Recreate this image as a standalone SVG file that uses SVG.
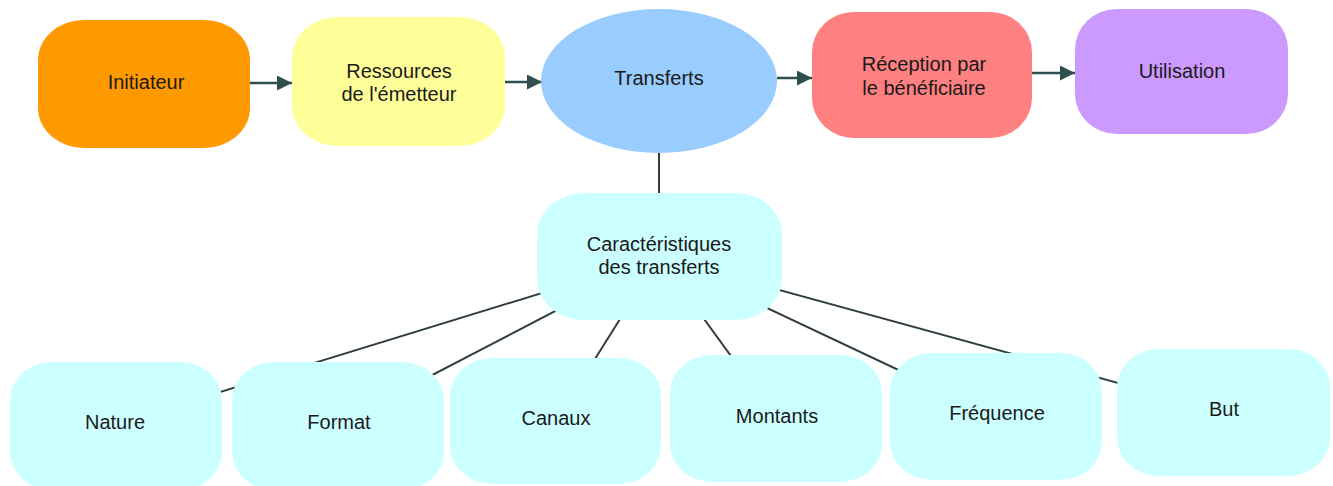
<svg xmlns="http://www.w3.org/2000/svg" width="1333" height="486" viewBox="0 0 1333 486">
<style>
text{font-family:"Liberation Sans",Arial,sans-serif;font-size:20px;fill:#1a1a1a;text-anchor:middle}
.ln{stroke:#2f3f3f;stroke-width:2;fill:none}
.ar{stroke:#2f4f4f;stroke-width:2.5;fill:none;marker-end:url(#ah)}
.leaf{fill:#ccffff}
</style>
<defs>
<marker id="ah" viewBox="0 0 10 10" refX="10" refY="5" markerWidth="6" markerHeight="6" markerUnits="strokeWidth" orient="auto">
<path d="M0,0 L10,5 L0,10 z" fill="#2f4f4f"/>
</marker>
</defs>
<rect width="1333" height="486" fill="#fff"/>
<g id="connectors">
<path class="ar" d="M250,83 H292"/>
<path class="ar" d="M505,82 H542"/>
<path class="ar" d="M777,78 H812"/>
<path class="ar" d="M1032,73 H1075"/>
<path class="ln" d="M659,153 V195"/>
<path class="ln" d="M659,257 L116,424"/>
<path class="ln" d="M659,257 L338,424"/>
<path class="ln" d="M659,257 L556,421"/>
<path class="ln" d="M659,257 L776,418"/>
<path class="ln" d="M659,257 L996,416"/>
<path class="ln" d="M659,257 L1224,412"/>
</g>
<g id="initiateur"><rect x="38" y="20" width="212" height="128" rx="46" ry="40" fill="#ff9900"/><text x="146" y="89">Initiateur</text></g>
<g id="ressources"><rect x="292" y="17" width="213" height="129" rx="46" ry="40" fill="#ffff99"/><text x="399" y="78">Ressources</text><text x="399" y="101">de l'émetteur</text></g>
<g id="transferts"><ellipse cx="659" cy="81" rx="118" ry="72" fill="#99ccff"/><text x="659" y="85">Transferts</text></g>
<g id="reception"><rect x="812" y="12" width="220" height="126" rx="42" ry="40" fill="#ff8080"/><text x="924" y="71">Réception par</text><text x="924" y="95">le bénéficiaire</text></g>
<g id="utilisation"><rect x="1075" y="9" width="213" height="125" rx="42" ry="40" fill="#cc99ff"/><text x="1182" y="78">Utilisation</text></g>
<g id="caracteristiques"><rect x="537" y="193" width="245" height="127" rx="46" ry="42" class="leaf"/><text x="659" y="251">Caractéristiques</text><text x="659" y="274">des transferts</text></g>
<g id="nature"><rect x="10" y="362" width="212" height="128" rx="42" ry="38" class="leaf"/><text x="115" y="429">Nature</text></g>
<g id="format"><rect x="232" y="362" width="212" height="128" rx="42" ry="38" class="leaf"/><text x="339" y="429">Format</text></g>
<g id="canaux"><rect x="450" y="358" width="211" height="126" rx="42" ry="38" class="leaf"/><text x="556" y="425">Canaux</text></g>
<g id="montants"><rect x="670" y="355" width="212" height="127" rx="42" ry="38" class="leaf"/><text x="777" y="423">Montants</text></g>
<g id="frequence"><rect x="890" y="353" width="212" height="127" rx="42" ry="38" class="leaf"/><text x="997" y="420">Fréquence</text></g>
<g id="but"><rect x="1117" y="349" width="213" height="127" rx="42" ry="38" class="leaf"/><text x="1224" y="416">But</text></g>
</svg>
